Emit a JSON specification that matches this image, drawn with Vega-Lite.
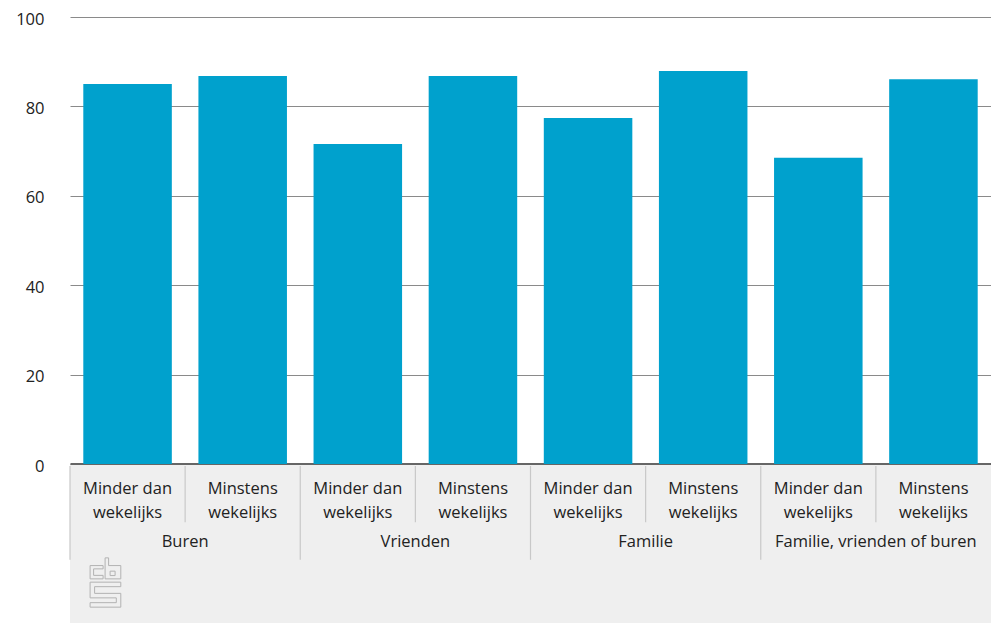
{
  "$schema": "https://vega.github.io/schema/vega-lite/v6.json",
  "autosize": {"type": "pad"},
  "padding": {"left": 15, "top": 11, "right": 0, "bottom": 0},
  "background": "#ffffff",
  "bounds": "flush",
  "spacing": 1,
  "config": {
    "font": "Open Sans",
    "text": {"font": "Open Sans"},
    "axis": {"labelFont": "Open Sans"}
  },
  "datasets": {
    "bars": [
      {"group": "Buren", "freq": "Minder dan\nwekelijks", "key": "Buren|Minder", "first": true, "value": 85.0},
      {"group": "Buren", "freq": "Minstens\nwekelijks", "key": "Buren|Minstens", "first": false, "value": 86.8},
      {"group": "Vrienden", "freq": "Minder dan\nwekelijks", "key": "Vrienden|Minder", "first": true, "value": 71.6},
      {"group": "Vrienden", "freq": "Minstens\nwekelijks", "key": "Vrienden|Minstens", "first": false, "value": 86.8},
      {"group": "Familie", "freq": "Minder dan\nwekelijks", "key": "Familie|Minder", "first": true, "value": 77.4},
      {"group": "Familie", "freq": "Minstens\nwekelijks", "key": "Familie|Minstens", "first": false, "value": 87.9},
      {"group": "Familie, vrienden of buren", "freq": "Minder dan\nwekelijks", "key": "Alle|Minder", "first": true, "value": 68.5},
      {"group": "Familie, vrienden of buren", "freq": "Minstens\nwekelijks", "key": "Alle|Minstens", "first": false, "value": 86.1}
    ]
  },
  "resolve": {"scale": {"x": "independent", "y": "independent"}},
  "vconcat": [
    {
      "width": 921,
      "height": 447,
      "view": {"stroke": null},
      "data": {"name": "bars"},
      "mark": {"type": "bar", "color": "#00a1cd"},
      "encoding": {
        "x": {
          "field": "key",
          "type": "nominal",
          "sort": null,
          "scale": {"paddingInner": 0.231, "paddingOuter": 0.1155},
          "axis": {
            "labels": false,
            "ticks": false,
            "title": null,
            "domainWidth": 3,
            "domainColor": "#666666"
          }
        },
        "y": {
          "field": "value",
          "type": "quantitative",
          "scale": {"domain": [0, 100]},
          "axis": {
            "values": [0, 20, 40, 60, 80, 100],
            "title": null,
            "domain": false,
            "ticks": false,
            "tickSize": 0,
            "labelPadding": 26,
            "labelFontSize": 16.5,
            "labelColor": "#222222",
            "labelOffset": 2,
            "gridColor": "#8a8a8a",
            "gridWidth": 1
          }
        }
      }
    },
    {
      "width": 921,
      "height": 158,
      "view": {"stroke": null, "fill": "#efefef"},
      "data": {"name": "bars"},
      "layer": [
        {
          "transform": [{"filter": "!datum.first"}],
          "mark": {"type": "rule", "color": "#c8c8c8", "strokeWidth": 1.2},
          "encoding": {
            "x": {
              "field": "key", "type": "nominal", "sort": null, "bandPosition": 0,
              "scale": {
                "domain": ["Buren|Minder", "Buren|Minstens", "Vrienden|Minder", "Vrienden|Minstens", "Familie|Minder", "Familie|Minstens", "Alle|Minder", "Alle|Minstens"],
                "paddingInner": 0, "paddingOuter": 0
              },
              "axis": null
            },
            "y": {"datum": 1, "type": "quantitative", "scale": {"domain": [0, 158], "reverse": true}, "axis": null},
            "y2": {"datum": 58}
          }
        },
        {
          "transform": [{"filter": "datum.first"}],
          "mark": {"type": "rule", "color": "#c8c8c8", "strokeWidth": 1.2},
          "encoding": {
            "x": {"field": "key", "type": "nominal", "sort": null, "bandPosition": 0},
            "y": {"datum": 1, "type": "quantitative"},
            "y2": {"datum": 96}
          }
        },
        {
          "mark": {"type": "text", "fontSize": 16.5, "color": "#222222", "lineBreak": "\n", "lineHeight": 24, "baseline": "middle", "align": "center"},
          "encoding": {
            "x": {"field": "key", "type": "nominal", "sort": null, "bandPosition": 0.5},
            "y": {"datum": 24, "type": "quantitative"},
            "text": {"field": "freq"}
          }
        },
        {
          "transform": [{"filter": "!datum.first"}],
          "mark": {"type": "text", "fontSize": 16.5, "color": "#222222", "baseline": "middle", "align": "center"},
          "encoding": {
            "x": {"field": "key", "type": "nominal", "sort": null, "bandPosition": 0},
            "y": {"datum": 78, "type": "quantitative"},
            "text": {"field": "group"}
          }
        },
        {
          "transform": [{"filter": "datum.key === 'Buren|Minder'"}],
          "mark": {
            "type": "point",
            "filled": false,
            "stroke": "#9a9a9a",
            "strokeWidth": 1,
            "size": 2500,
            "shape": "M-0.094,-0.678H-0.614V-0.146H-0.094V-0.286H-0.474V-0.546H-0.094Z M-0.014,-0.986H0.126V-0.678H0.614V-0.146H-0.014Z M0.186,-0.454H0.386V-0.278H0.186Z M0.614,-0.014H-0.614V0.614H0.434V0.806H-0.614V0.986H0.614V0.434H-0.434V0.166H0.614Z"
          },
          "encoding": {
            "x": {"field": "key", "type": "nominal", "sort": null, "bandPosition": 0.308},
            "y": {"datum": 119, "type": "quantitative"}
          }
        }
      ]
    }
  ]
}
